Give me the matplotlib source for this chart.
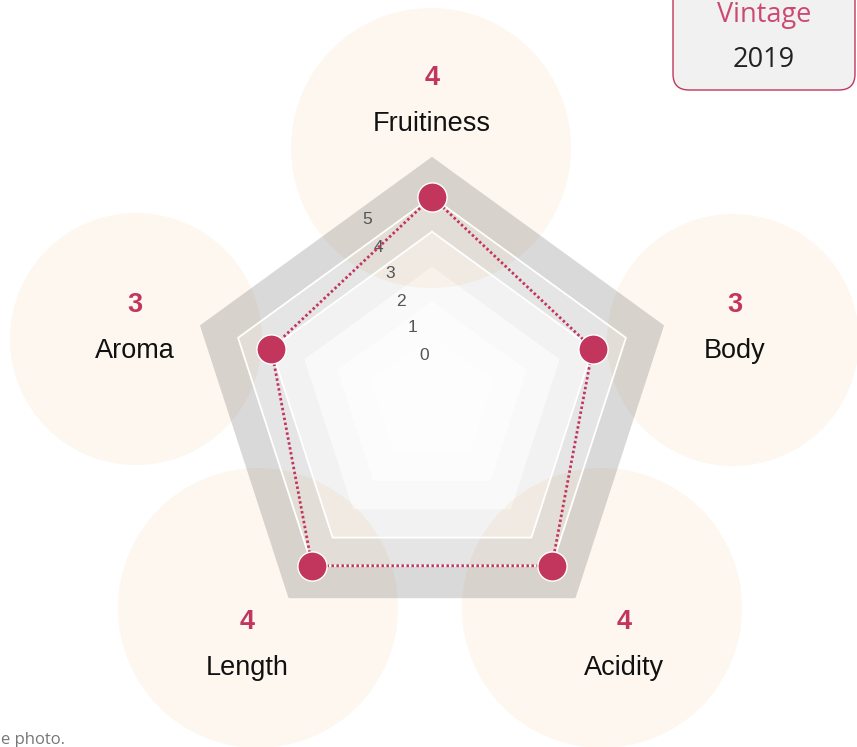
import numpy as np
import matplotlib
matplotlib.use("Agg")
import matplotlib.pyplot as plt
from matplotlib.patches import Circle, FancyBboxPatch, PathPatch
from matplotlib.path import Path

# data
categories = ["Fruitiness", "Body", "Acidity", "Length", "Aroma"]
scores = [4, 3, 4, 4, 3]
tick_labels = ["0", "1", "2", "3", "4", "5"]
vintage_year = "2019"

crimson = "#c2365e"
W, H = 857, 747

fig = plt.figure(figsize=(W / 100, H / 100), dpi=100)

# background layer in pixel coords (circles, labels, vintage box)
bg = fig.add_axes([0, 0, 1, 1])
bg.set_xlim(0, W)
bg.set_ylim(H, 0)
bg.axis("off")

# soft circles behind each category label
circles = [(431, 148, 140), (733, 340, 126), (602, 608, 140), (258, 608, 140), (136, 339, 126)]
label_pos = [(432, 124), (735, 351), (624, 668), (247, 668), (135, 351)]
for cx, cy, rr in circles:
    bg.add_patch(Circle((cx, cy), rr, facecolor="#fdf7f0", edgecolor="none", zorder=1))

for (lx, ly), name, val in zip(label_pos, categories, scores):
    bg.text(lx, ly, name, ha="center", va="center", fontsize=19.5, family="Liberation Sans",
            color="#111111", zorder=3)
    bg.text(lx, ly - 46, str(val), ha="center", va="center", fontsize=19.5,
            family="Liberation Sans", fontweight="bold", color=crimson, zorder=3)

# vintage box
bg.add_patch(FancyBboxPatch((673, -30), 182, 120, boxstyle="round,pad=0,rounding_size=16",
                            facecolor="#f1f1f1", edgecolor=crimson, linewidth=1, zorder=2))
bg.text(764, 15, "Vintage", ha="center", va="center", fontsize=19.5, family="Open Sans",
        color="#cc4a72", zorder=3)
bg.text(764, 60, vintage_year, ha="center", va="center", fontsize=19.5, family="Open Sans",
        color="#222222", zorder=3)

bg.text(1, 740, "e photo.", ha="left", va="center", fontsize=12, family="Open Sans",
        color="#777777")

# radar
cx, cy, R = 432, 400.8, 244
ax = fig.add_axes([(cx - R) / W, (H - cy - R) / H, 2 * R / W, 2 * R / H], polar=True)
ax.set_facecolor("none")
ax.set_theta_offset(np.pi / 2)
ax.set_theta_direction(-1)
rmin, rmax = -1.85, 5.15
ax.set_ylim(rmin, rmax)
ax.set_xticks([])
ax.set_yticks([])
ax.grid(False)
ax.spines["polar"].set_visible(False)

n = len(categories)
angles = np.linspace(0, 2 * np.pi, n, endpoint=False)


def ring(r):
    return [(a, r) for a in angles]


# grey bands: outer -> inner, drawn as translucent annuli
levels = [rmax, 4, 3, 2, 1, 0, rmin]
alphas = [0.15, 0.10, 0.052, 0.025, 0.012, 0.006]
for i in range(len(levels) - 1):
    outer = ring(levels[i])
    inner = ring(levels[i + 1])[::-1] if levels[i + 1] > rmin else []
    verts = outer + [outer[0]]
    codes = [Path.MOVETO] + [Path.LINETO] * (n - 1) + [Path.CLOSEPOLY]
    if inner:
        verts += inner + [inner[0]]
        codes += [Path.MOVETO] + [Path.LINETO] * (n - 1) + [Path.CLOSEPOLY]
    ax.add_patch(PathPatch(Path(verts, codes), facecolor="black", alpha=alphas[i],
                           edgecolor="none", zorder=1))

# white outlines on the two upper rings
closed = np.append(angles, angles[0])
for lv in [4, 3]:
    ax.plot(closed, [lv] * (n + 1), color="white", linewidth=1.3, zorder=2)

# tick labels of the radial scale
for k, t in enumerate(tick_labels):
    ax.text(424 - 11.4 * k, 355 - 27 * k, t, transform=bg.transData, ha="center",
            va="center", fontsize=12.5, family="Liberation Sans",
            color="#555555", zorder=3)

vals = scores + scores[:1]
ax.plot(closed, vals, color=crimson, linewidth=2, linestyle=(0, (0.9, 0.9)), zorder=4)
ax.plot(angles, scores, linestyle="none", marker="o", markersize=21,
        markerfacecolor=crimson, markeredgecolor="white", markeredgewidth=1, zorder=5,
        clip_on=False)

fig.savefig("out.png", dpi=100)
